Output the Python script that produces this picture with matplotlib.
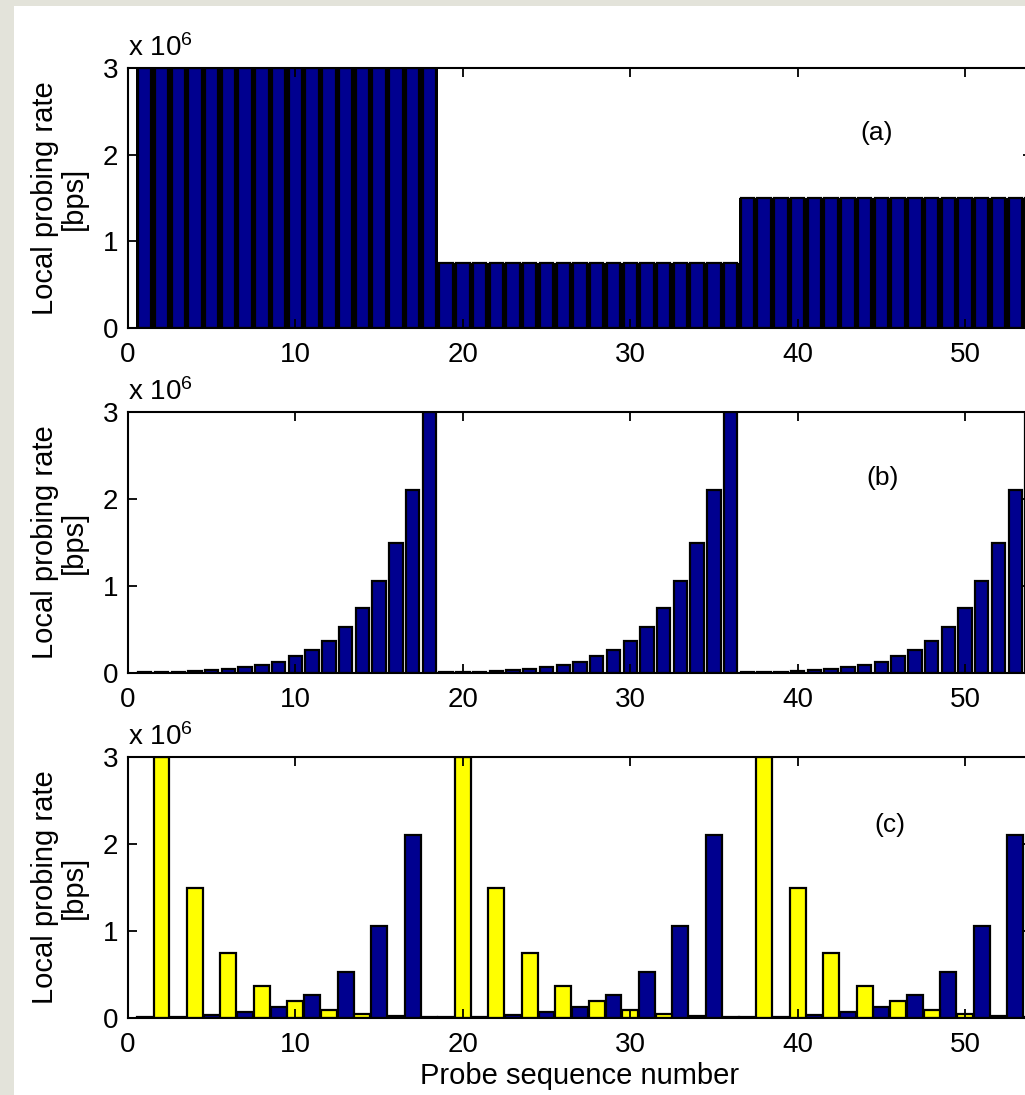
import numpy as np
import matplotlib
matplotlib.use("Agg")
import matplotlib.pyplot as plt
from matplotlib.patches import Rectangle

plt.rcParams['font.family'] = ['Liberation Sans', 'DejaVu Sans']
plt.rcParams['mathtext.fontset'] = 'custom'
plt.rcParams['mathtext.rm'] = 'Liberation Sans'
plt.rcParams['mathtext.it'] = 'Liberation Sans:italic'
plt.rcParams['mathtext.bf'] = 'Liberation Sans:bold'

# ---------------- data (rates in units of 10^6 bps) ----------------
probe = np.arange(1, 55)

rate_a = [3.0, 3.0, 3.0, 3.0, 3.0, 3.0, 3.0, 3.0, 3.0, 3.0, 3.0, 3.0, 3.0, 3.0, 3.0, 3.0, 3.0, 3.0,
          0.75, 0.75, 0.75, 0.75, 0.75, 0.75, 0.75, 0.75, 0.75, 0.75, 0.75, 0.75, 0.75, 0.75, 0.75, 0.75, 0.75, 0.75,
          1.5, 1.5, 1.5, 1.5, 1.5, 1.5, 1.5, 1.5, 1.5, 1.5, 1.5, 1.5, 1.5, 1.5, 1.5, 1.5, 1.5, 1.5]

rate_b = [0.008, 0.012, 0.017, 0.023, 0.033, 0.047, 0.066, 0.094, 0.13, 0.19, 0.26, 0.37, 0.53, 0.75, 1.06, 1.5, 2.1, 3.0,
          0.008, 0.012, 0.017, 0.023, 0.033, 0.047, 0.066, 0.094, 0.13, 0.19, 0.26, 0.37, 0.53, 0.75, 1.06, 1.5, 2.1, 3.0,
          0.008, 0.012, 0.017, 0.023, 0.033, 0.047, 0.066, 0.094, 0.13, 0.19, 0.26, 0.37, 0.53, 0.75, 1.06, 1.5, 2.1, 3.0]

# panel (c): yellow bars at even probes, blue bars at odd probes
probe_c_yellow = np.arange(2, 55, 2)
rate_c_yellow = [3.0, 1.5, 0.75, 0.37, 0.19, 0.094, 0.047, 0.023, 0.012,
                 3.0, 1.5, 0.75, 0.37, 0.19, 0.094, 0.047, 0.023, 0.012,
                 3.0, 1.5, 0.75, 0.37, 0.19, 0.094, 0.047, 0.023, 0.012]
probe_c_blue = np.arange(1, 55, 2)
rate_c_blue = [0.008, 0.017, 0.033, 0.066, 0.13, 0.26, 0.53, 1.06, 2.1,
               0.008, 0.017, 0.033, 0.066, 0.13, 0.26, 0.53, 1.06, 2.1,
               0.008, 0.017, 0.033, 0.066, 0.13, 0.26, 0.53, 1.06, 2.1]

panel_labels = ['(a)', '(b)', '(c)']
xticks = [0, 10, 20, 30, 40, 50]
yticks = [0, 1, 2, 3]
ylabel = 'Local probing rate\n[bps]'
xlabel = 'Probe sequence number'

# ---------------- style ----------------
NAVY = '#00008F'
YELLOW = '#FFFF00'
GRAY = '#E3E3DA'
W, H = 1025, 1095

fig = plt.figure(figsize=(W / 100, H / 100), dpi=100, facecolor='white')
fig.patches.append(Rectangle((0, 0), 14 / W, 1, transform=fig.transFigure,
                             facecolor=GRAY, edgecolor='none', zorder=-10))
fig.patches.append(Rectangle((0, 1 - 6 / H), 1, 6 / H, transform=fig.transFigure,
                             facecolor=GRAY, edgecolor='none', zorder=-10))

left = 128 / W
width = (1032 - 128) / W
boxes = [(68, 328), (412, 673), (757, 1018)]
axes = []
for top, bot in boxes:
    ax = fig.add_axes([left, 1 - bot / H, width, (bot - top) / H])
    axes.append(ax)

ax_a, ax_b, ax_c = axes

ax_a.bar(probe, rate_a, width=1.0, color='black', linewidth=0)
ax_a.bar(probe, rate_a, width=0.8, color=NAVY, edgecolor='black', linewidth=1.6)

ax_b.bar(probe, rate_b, width=0.8, color=NAVY, edgecolor='black', linewidth=1.6)

ax_c.bar(probe_c_blue, rate_c_blue, width=0.95, color=NAVY, edgecolor='black', linewidth=1.6)
ax_c.bar(probe_c_yellow, rate_c_yellow, width=0.95, color=YELLOW, edgecolor='black', linewidth=1.6)

label_pos = [(44.7, 2.25), (45.1, 2.24), (45.5, 2.22)]
for ax, lab, (lx, ly), (top, bot) in zip(axes, panel_labels, label_pos, boxes):
    ax.set_xlim(0, 54)
    ax.set_ylim(0, 3)
    ax.set_xticks(xticks)
    ax.set_yticks(yticks)
    ax.tick_params(direction='in', length=6.5, width=1.3, top=True, right=True,
                   labelsize=20, pad=7)
    ax.tick_params(axis='x', pad=10)
    for s in ax.spines.values():
        s.set_linewidth(1.5)
    ax.text(lx, ly, lab, ha='center', va='center', fontsize=19)
    hpx = bot - top
    ax.text(0, 1 + 12 / hpx, r'x 10$^{\mathregular{6}}$', transform=ax.transAxes,
            ha='left', va='baseline', fontsize=20)
    ax.set_ylabel(ylabel, fontsize=21, linespacing=1.05, multialignment='center')
    ax.yaxis.set_label_coords(-40 / 904, 0.5)

ax_c.set_xlabel(xlabel, fontsize=21)
ax_c.xaxis.set_label_coords(0.5, -(1062 - 1018) / 261)

fig.savefig('out.png', dpi=100, facecolor=fig.get_facecolor())
